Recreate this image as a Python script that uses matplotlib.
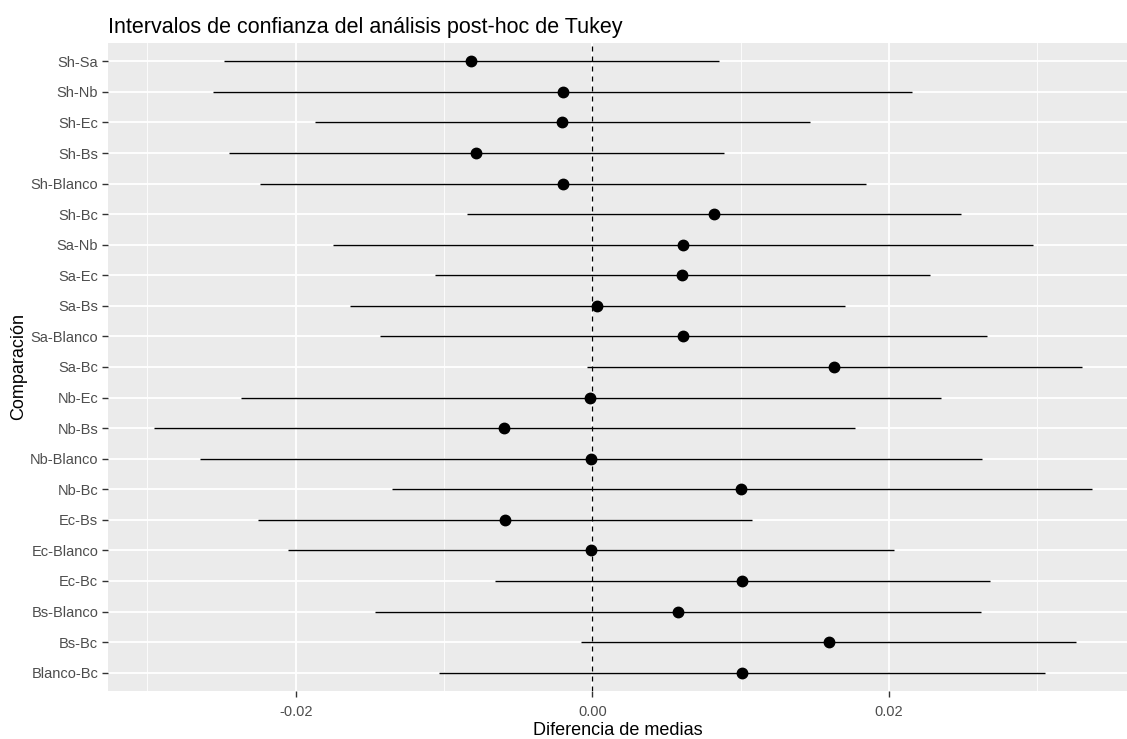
import matplotlib
matplotlib.use('Agg')
import matplotlib.pyplot as plt
from matplotlib.ticker import MultipleLocator

plt.rcParams['font.family'] = ['Liberation Sans', 'DejaVu Sans']

# comparisons, top to bottom as shown
comparisons = ['Sh-Sa', 'Sh-Nb', 'Sh-Ec', 'Sh-Bs', 'Sh-Blanco', 'Sh-Bc',
               'Sa-Nb', 'Sa-Ec', 'Sa-Bs', 'Sa-Blanco', 'Sa-Bc',
               'Nb-Ec', 'Nb-Bs', 'Nb-Blanco', 'Nb-Bc',
               'Ec-Bs', 'Ec-Blanco', 'Ec-Bc',
               'Bs-Blanco', 'Bs-Bc', 'Blanco-Bc']
diff = [-0.00818, -0.00200, -0.00206, -0.00781, -0.00200, 0.00821,
        0.00614, 0.00605, 0.00030, 0.00612, 0.01632,
        -0.00016, -0.00595, -0.00009, 0.01006,
        -0.00589, -0.00009, 0.01009,
        0.00578, 0.01594, 0.01009]
lwr = [-0.02484, -0.02559, -0.01873, -0.02448, -0.02239, -0.00847,
       -0.01751, -0.01061, -0.01636, -0.01430, -0.00036,
       -0.02371, -0.02953, -0.02647, -0.01353,
       -0.02256, -0.02050, -0.00656,
       -0.01467, -0.00076, -0.01032]
upr = [0.00852, 0.02156, 0.01468, 0.00890, 0.01846, 0.02486,
       0.02972, 0.02277, 0.01702, 0.02659, 0.03302,
       0.02353, 0.01771, 0.02630, 0.03372,
       0.01077, 0.02034, 0.02682,
       0.02621, 0.03262, 0.03053]

W, H = 1127, 739
fig = plt.figure(figsize=(W / 100, H / 100), dpi=100)
ax = fig.add_axes([108 / W, 1 - 691 / H, (1127 - 108) / W, (691 - 43) / H])

n = len(comparisons)
ypos = [n - i for i in range(n)]

ax.set_facecolor('#EBEBEB')
for s in ax.spines.values():
    s.set_visible(False)

ax.hlines(ypos, lwr, upr, color='black', linewidth=1.0, zorder=3)
ax.plot(diff, ypos, 'o', color='black', markersize=7.5, zorder=4)
ax.axvline(0, color='black', linestyle=(0, (4, 4)), linewidth=0.9, zorder=2)

ax.set_xlim(-0.03266, 0.03606)
ax.set_ylim(0.4, n + 0.6)
ax.xaxis.set_major_locator(MultipleLocator(0.02))
ax.xaxis.set_minor_locator(MultipleLocator(0.01))
ax.set_xticks([-0.02, 0.0, 0.02])
ax.set_xticklabels(['-0.02', '0.00', '0.02'])
ax.set_yticks(ypos)
ax.set_yticklabels(comparisons)

ax.grid(which='major', color='white', linewidth=1.3, zorder=0)
ax.grid(which='minor', axis='x', color='white', linewidth=0.6, zorder=0)
ax.set_axisbelow(True)

ax.tick_params(axis='both', which='major', length=4, width=1.0, color='#333333',
               labelcolor='#4D4D4D', labelsize=10.5)
ax.tick_params(axis='y', pad=3)
ax.tick_params(axis='x', pad=6)
ax.tick_params(which='minor', length=0)

ax.set_xlabel('Diferencia de medias', fontsize=13, color='black', labelpad=2)
ax.set_ylabel('Comparación', fontsize=13, color='black', labelpad=2)
ax.set_title('Intervalos de confianza del análisis post-hoc de Tukey',
             loc='left', fontsize=15.5, color='black', pad=7)

fig.savefig('out.png', dpi=100)
